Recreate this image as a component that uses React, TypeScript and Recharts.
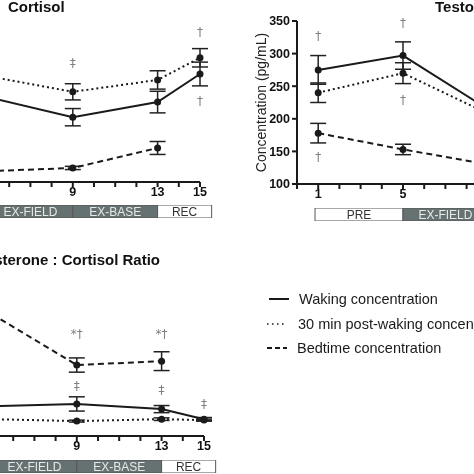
import React from 'react';
import { LineChart, Line, XAxis, YAxis, ErrorBar, ReferenceDot, BarChart, Bar, LabelList } from 'recharts';

// study days (x) and tick labels
const days = [1, 5, 9, 13, 15];
const dayTicks = [0, 1, 2, 3, 4, 5, 6, 7, 8, 9, 10, 11, 12, 13, 14, 15];
const labelledDays = [1, 5, 9, 13, 15];

const seriesNames = ['Waking concentration', '30 min post-waking concentration', 'Bedtime concentration'];

// cortisol (left of panel is cropped, so unseen points stay null)
const cortisolWaking = [null, 15.7, 12.0, 14.8, 20.0];
const cortisolWakingErr = [null, 1.6, 1.6, 2.0, 2.2];
const cortisolPost = [null, 19.6, 16.7, 18.9, 23.0];
const cortisolPostErr = [null, 1.5, 1.5, 1.7, 1.7];
const cortisolBed = [null, 2.0, 2.6, 6.3, null];
const cortisolBedErr = [null, 0.3, 0.3, 1.2, null];

// testosterone (pg/mL)
const testoWaking = [275, 297, 215, null, null];
const testoWakingErr = [22, 21, null, null, null];
const testoPost = [240, 270, 208, null, null];
const testoPostErr = [15, 16, null, null, null];
const testoBed = [178, 153, 130, null, null];
const testoBedErr = [15, 8, null, null, null];

// testosterone : cortisol ratio
const ratioWaking = [null, 9.2, 9.9, 8.3, 5.2];
const ratioWakingErr = [null, 1.0, 2.2, 1.1, 0.5];
const ratioPost = [null, 5.2, 4.6, 5.2, 4.9];
const ratioPostErr = [null, 0.3, 0.3, 0.4, 0.3];
const ratioBed = [null, 37.6, 21.9, 23.1, null];
const ratioBedErr = [null, 2.0, 2.2, 2.9, null];

// significance marks: [day, value, symbol]
const cortisolNotes: [number, number, string][] = [[9, 22.0, '‡'], [15, 27.8, '†'], [15, 15.0, '†']];
const testoNotes: [number, number, string][] = [[1, 328, '†'], [1, 141, '†'], [5, 347, '†'], [5, 229, '†']];
const ratioNotes: [number, number, string][] = [[9, 31.5, '*†'], [13, 31.5, '*†'], [9, 15.4, '‡'], [13, 14.2, '‡'], [15, 9.9, '‡']];

// phases
const phaseNames = ['PRE', 'EX-FIELD', 'EX-BASE', 'REC'];
const phaseBounds = [0.85, 5, 9, 13, 15.55];

const PX_PER_DAY = 21.2;
const PLOT_W = 15 * PX_PER_DAY;
const Y_W = 60;
const M_TOP = 10;
const INK = '#1a1a1a';
const dashes = [undefined, '2 3', '6 4'];
const phaseFill = ['#ffffff', '#667272', '#667272', '#ffffff'];
const phaseText = ['#333', '#e8e8e8', '#e8e8e8', '#333'];

function buildRows(w: any[], we: any[], p: any[], pe: any[], b: any[], be: any[]) {
  return days.map((d, i) => ({ day: d, w: w[i], we: we[i], p: p[i], pe: pe[i], b: b[i], be: be[i] }));
}

const cortisolRows = buildRows(cortisolWaking, cortisolWakingErr, cortisolPost, cortisolPostErr, cortisolBed, cortisolBedErr);
const testoRows = buildRows(testoWaking, testoWakingErr, testoPost, testoPostErr, testoBed, testoBedErr);
const ratioRows = buildRows(ratioWaking, ratioWakingErr, ratioPost, ratioPostErr, ratioBed, ratioBedErr);

// draws the significance symbol at the reference point
const noteShape = (symbol: string) => (p: any) => (
  <text x={p.cx} y={p.cy} dy="0.35em" textAnchor="middle" fill="#808080"
    style={{ fontFamily: '"DejaVu Sans", sans-serif', fontSize: 12 }}>{symbol}</text>
);

function HormonePanel({ rows, domain, yTicks, yLabel, left, top, plotH, notes }: any) {
  return (
    <div style={{ position: 'absolute', left: left - Y_W, top: top - M_TOP }}>
      <LineChart width={Y_W + PLOT_W + 12} height={M_TOP + plotH + 26} data={rows}
        margin={{ top: M_TOP, right: 12, left: 0, bottom: 0 }}>
        <XAxis dataKey="day" type="number" domain={[0, 15]} ticks={dayTicks} interval={0}
          tickFormatter={(v: number) => (labelledDays.includes(v) ? String(v) : '')}
          height={26} tickSize={5} tickMargin={0} stroke={INK} strokeWidth={2}
          tick={{ fill: '#111', fontSize: 12.5, fontWeight: 700 }} />
        <YAxis type="number" domain={domain} ticks={yTicks} width={Y_W} tickSize={5} tickMargin={2}
          stroke={INK} strokeWidth={2} tick={{ fill: '#111', fontSize: 12.5, fontWeight: 700 }}
          label={yLabel ? { value: yLabel, angle: -90, position: 'insideLeft', offset: 24, style: { textAnchor: 'middle', fontSize: 14, fill: '#222' } } : undefined} />
        {['w', 'p', 'b'].map((k, i) => (
          <Line key={k} dataKey={k} name={seriesNames[i]} stroke={INK} strokeWidth={2}
            strokeDasharray={dashes[i]} dot={{ r: 3.5, fill: INK, stroke: INK, strokeWidth: 0 }}
            isAnimationActive={false}>
            <ErrorBar dataKey={k + 'e'} width={8} stroke="#222" strokeWidth={1.5} />
          </Line>
        ))}
        {notes.map(([d, v, s]: [number, number, string], i: number) => (
          <ReferenceDot key={i} x={d} y={v} r={1} ifOverflow="visible" shape={noteShape(s)} />
        ))}
      </LineChart>
    </div>
  );
}

function PhaseBar({ left, top }: { left: number; top: number }) {
  const row: any = { name: 'phase', gap: phaseBounds[0] };
  phaseNames.forEach((p, i) => { row[p] = phaseBounds[i + 1] - phaseBounds[i]; });
  return (
    <div style={{ position: 'absolute', left, top }}>
      <BarChart layout="vertical" width={16 * PX_PER_DAY} height={13} data={[row]}
        margin={{ top: 0, right: 0, left: 0, bottom: 0 }} barCategoryGap={0}>
        <XAxis type="number" domain={[0, 16]} hide />
        <YAxis type="category" dataKey="name" hide />
        <Bar dataKey="gap" stackId="p" fill="none" isAnimationActive={false} />
        {phaseNames.map((p, i) => (
          <Bar key={p} dataKey={p} stackId="p" fill={phaseFill[i]} stroke="#555" strokeWidth={1}
            isAnimationActive={false}>
            <LabelList dataKey={p} position="center" formatter={() => p}
              fill={phaseText[i]} stroke="none" fontSize={12} />
          </Bar>
        ))}
      </BarChart>
    </div>
  );
}

function LegendBlock() {
  const ys = [299, 324, 348];
  return (
    <>
      {seriesNames.map((n, i) => (
        <div key={n} style={{ position: 'absolute', left: 266, top: ys[i] - 10, height: 20, display: 'flex', alignItems: 'center', whiteSpace: 'nowrap' }}>
          <svg width={24} height={20}>
            <line x1={i === 0 ? 3 : 1} x2={i === 0 ? 23 : 21} y1={10} y2={10} stroke={INK}
              strokeWidth={i === 1 ? 1.5 : 2} strokeDasharray={i === 1 ? '1.5 3.5' : i === 2 ? '5 3' : undefined} />
          </svg>
          <span style={{ fontSize: 14.5, color: '#1a1a1a', marginLeft: 9 - i }}>{n}</span>
        </div>
      ))}
    </>
  );
}

const titleStyle: React.CSSProperties = { position: 'absolute', fontSize: 15, fontWeight: 700, lineHeight: '17px', color: '#111', whiteSpace: 'nowrap' };

export default function App() {
  return (
    <div style={{ position: 'fixed', left: 0, top: 0, width: 474, height: 474, overflow: 'hidden', background: '#fff', willChange: 'transform', fontFamily: '"Liberation Sans", Arial, sans-serif' }}>
      <div style={{ ...titleStyle, left: 8, top: -2 }}>Cortisol</div>
      <div style={{ ...titleStyle, left: 435, top: -2 }}>Testosterone</div>
      <div style={{ ...titleStyle, left: -140, top: 251, width: 300, textAlign: 'right' }}>Testosterone : Cortisol Ratio</div>

      <HormonePanel rows={cortisolRows} domain={[0, 30]} yTicks={[0, 10, 20, 30]} left={-118} top={20} plotH={162} notes={cortisolNotes} />
      <PhaseBar left={-118} top={205} />

      <HormonePanel rows={testoRows} domain={[100, 350]} yTicks={[100, 150, 200, 250, 300, 350]} yLabel="Concentration (pg/mL)" left={297} top={21} plotH={163} notes={testoNotes} />
      <PhaseBar left={297} top={208} />

      <HormonePanel rows={ratioRows} domain={[0, 50]} yTicks={[0, 10, 20, 30, 40, 50]} left={-113.8} top={274} plotH={162} notes={ratioNotes} />
      <PhaseBar left={-113.8} top={460} />

      <LegendBlock />
    </div>
  );
}
